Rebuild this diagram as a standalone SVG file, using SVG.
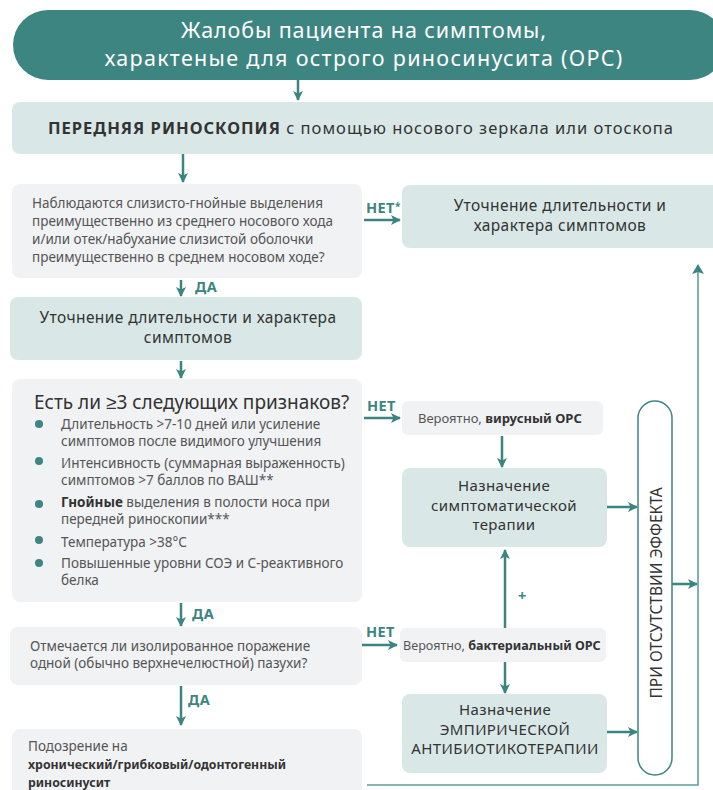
<svg xmlns="http://www.w3.org/2000/svg" width="713" height="790" viewBox="0 0 713 790">
<defs>
<marker id="ah" viewBox="0 0 10 10" refX="9" refY="5" markerWidth="4" markerHeight="4" orient="auto-start-reverse" markerUnits="strokeWidth">
<path d="M0,0 L10,5 L0,10 L2.5,5 z" fill="#3b8580"/>
</marker>
</defs>
<style>
text{font-family:"Noto Sans","Liberation Sans",sans-serif;}
.gray{fill:#f1f2f4;}
.lt{fill:#d9e8e7;}
.t{fill:#333;font-size:15.5px;letter-spacing:0.4px;}
.t2{fill:#333;font-size:15px;letter-spacing:0.4px;}
.s{fill:#555;font-size:13.5px;}
.lbl{fill:#3b8580;font-size:14.5px;font-weight:700;letter-spacing:0.4px;}
.b{font-weight:700;fill:#333;}
.c{text-anchor:middle;}
.ar{stroke:#3b8580;stroke-width:2.5;fill:none;marker-end:url(#ah);}
.ln{stroke:#5f9f9b;stroke-width:1.6;fill:none;}
</style>
<rect width="713" height="790" fill="#fff"/>

<g id="connectors">
<line class="ar" x1="298" y1="80" x2="298" y2="100"/>
<line class="ar" x1="183" y1="154" x2="183" y2="182"/>
<line class="ar" x1="364" y1="220" x2="400" y2="220"/>
<text class="lbl" x="366" y="213">НЕТ<tspan font-size="10" dy="-3">*</tspan></text>
<line class="ar" x1="181" y1="280" x2="181" y2="296"/>
<text class="lbl" x="195" y="292">ДА</text>
<line class="ar" x1="181" y1="361" x2="181" y2="378"/>
<line class="ar" x1="364" y1="418" x2="400" y2="418"/>
<text class="lbl" x="367" y="411">НЕТ</text>
<line class="ar" x1="502" y1="436" x2="502" y2="467"/>
<line class="ar" x1="607" y1="507" x2="637" y2="507"/>
<line class="ar" x1="181" y1="603" x2="181" y2="626"/>
<text class="lbl" x="192" y="619">ДА</text>
<line class="ar" x1="362" y1="645" x2="397" y2="645"/>
<text class="lbl" x="366" y="637">НЕТ</text>
<line class="ar" x1="505" y1="628" x2="505" y2="550"/>
<text class="lbl" x="518" y="601">+</text>
<line class="ar" x1="505" y1="662" x2="505" y2="693"/>
<line class="ar" x1="181" y1="686" x2="181" y2="725"/>
<text class="lbl" x="188" y="705">ДА</text>
<line class="ar" x1="607" y1="732" x2="637" y2="732"/>
<line class="ar" x1="672" y1="584" x2="697" y2="584"/>
<polyline class="ln" points="367,785 698,785 698,270"/>
<path d="M698,264 L704,274 L698,272 L692,274 z" fill="#3b8580"/>
</g>

<g id="n1">
<rect x="13" y="10" width="712" height="70" rx="35" fill="#3d8580"/>
<text class="c" x="364" y="38" fill="#fff" font-size="21.5" letter-spacing="0.9">Жалобы пациента на симптомы,</text>
<text class="c" x="364" y="66" fill="#fff" font-size="21.5" letter-spacing="1.3">характеные для острого риносинусита (ОРС)</text>
</g>

<g id="n2">
<rect class="lt" x="12" y="102" width="710" height="52" rx="8"/>
<text class="c" x="361" y="134" fill="#333" font-size="16.5" letter-spacing="1"><tspan class="b">ПЕРЕДНЯЯ РИНОСКОПИЯ</tspan> с помощью носового зеркала или отоскопа</text>
</g>

<g id="n3">
<rect class="gray" x="12" y="184" width="350" height="94" rx="8"/>
<text class="s" x="32" y="208">Наблюдаются слизисто-гнойные выделения</text>
<text class="s" x="32" y="226">преимущественно из среднего носового хода</text>
<text class="s" x="32" y="244">и/или отек/набухание слизистой оболочки</text>
<text class="s" x="32" y="262">преимущественно в среднем носовом ходе?</text>
</g>

<g id="n4">
<rect class="lt" x="402" y="185" width="320" height="63" rx="8"/>
<text class="t c" x="560" y="211">Уточнение длительности и</text>
<text class="t c" x="560" y="231">характера симптомов</text>
</g>

<g id="n5">
<rect class="lt" x="10" y="297" width="352" height="63" rx="8"/>
<text class="t c" x="188" y="323">Уточнение длительности и характера</text>
<text class="t c" x="188" y="343">симптомов</text>
</g>

<g id="n6">
<rect class="gray" x="12" y="379" width="350" height="223" rx="8"/>
<text x="34" y="409" fill="#333" font-size="19">Есть ли ≥3 следующих признаков?</text>
<g fill="#3d8580">
<circle cx="39" cy="424" r="4"/>
<circle cx="39" cy="461" r="4"/>
<circle cx="39" cy="504" r="4"/>
<circle cx="39" cy="540" r="4"/>
<circle cx="39" cy="563" r="4"/>
</g>
<text class="s" x="61" y="429">Длительность &gt;7-10 дней или усиление</text>
<text class="s" x="61" y="446">симптомов после видимого улучшения</text>
<text class="s" x="61" y="468">Интенсивность (суммарная выраженность)</text>
<text class="s" x="61" y="485">симптомов &gt;7 баллов по ВАШ**</text>
<text class="s" x="61" y="507"><tspan class="b">Гнойные</tspan> выделения в полости носа при</text>
<text class="s" x="61" y="524">передней риноскопии***</text>
<text class="s" x="61" y="547">Температура &gt;38°С</text>
<text class="s" x="61" y="568">Повышенные уровни СОЭ и С-реактивного</text>
<text class="s" x="61" y="585">белка</text>
</g>

<g id="n7">
<rect class="gray" x="402" y="401" width="201" height="34" rx="6"/>
<text x="418" y="423" fill="#555" font-size="13">Вероятно, <tspan class="b">вирусный ОРС</tspan></text>
</g>

<g id="n8">
<rect class="lt" x="402" y="468" width="205" height="79" rx="8"/>
<text class="t2 c" x="504" y="491">Назначение</text>
<text class="t2 c" x="504" y="510.5">симптоматической</text>
<text class="t2 c" x="504" y="530">терапии</text>
</g>

<g id="n9">
<rect x="638" y="401" width="34" height="374" rx="17" fill="#fff" stroke="#3d8580" stroke-width="1.5"/>
<text class="c" transform="translate(662,593) rotate(-90)" fill="#333" font-size="15.5">ПРИ ОТСУТСТВИИ ЭФФЕКТА</text>
</g>

<g id="n10">
<rect class="gray" x="10" y="627" width="352" height="58" rx="8"/>
<text class="s" x="30" y="651">Отмечается ли изолированное поражение</text>
<text class="s" x="30" y="668">одной (обычно верхнечелюстной) пазухи?</text>
</g>

<g id="n11">
<rect class="gray" x="400" y="628" width="206" height="34" rx="6"/>
<text x="403" y="650" fill="#555" font-size="12.6">Вероятно, <tspan class="b">бактериальный ОРС</tspan></text>
</g>

<g id="n12">
<rect class="lt" x="402" y="694" width="205" height="79" rx="8"/>
<text class="t2 c" x="505" y="715">Назначение</text>
<text class="t2 c" x="505" y="734.5" letter-spacing="0.2">ЭМПИРИЧЕСКОЙ</text>
<text class="t2 c" x="505" y="754" letter-spacing="0.2">АНТИБИОТИКОТЕРАПИИ</text>
</g>

<g id="n13">
<rect class="gray" x="12" y="729" width="350" height="80" rx="8"/>
<text class="s" x="28" y="751">Подозрение на</text>
<text class="b" x="28" y="769" font-size="12.3">хронический/грибковый/одонтогенный</text>
<text class="b" x="28" y="787" font-size="12.3">риносинусит</text>
</g>
</svg>
